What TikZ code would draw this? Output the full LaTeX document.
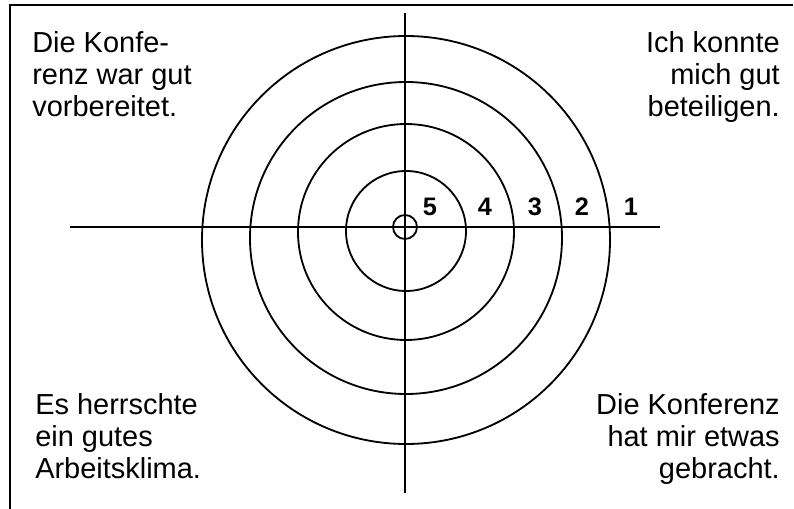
\documentclass[tikz,border=0pt]{standalone}
\usepackage{fontspec}
\setmainfont{Liberation Sans}
\usepackage{tikz}
\usetikzlibrary{positioning}

\begin{document}
\begin{tikzpicture}[
    x=0.25mm, y=-0.25mm,
    line/.style={line width=1.3pt, draw=black},
    ring/.style={line width=1.3pt, draw=black},
    statement/.style={font=\fontsize{20.6}{23}\selectfont, inner sep=0pt},
    score/.style={font=\fontsize{18}{20}\selectfont\bfseries, inner sep=0pt}
]
\useasboundingbox (0,0) rectangle (794,509);

% Frame
\coordinate (fbot) at (10,509);
\coordinate (fcorner) at (10,5);
\coordinate (fright) at (793,5);
\draw[line] (fbot) -- (fcorner) -- (fright);

% Axes
\coordinate (ctr) at (405,227);
\coordinate (north) at (405,13);
\coordinate (south) at (405,493);
\coordinate (west) at (70,227);
\coordinate (east) at (660,227);
\draw[line] (north) -- (south);
\draw[line] (west) -- (east);

% Rings
\foreach \cy/\r in {240/204, 238/156, 232/108, 231/60}
  \draw[ring] (406,\cy) circle[radius=\r];
\draw[ring] (ctr) circle[radius=12];

% Scores
\foreach \x/\n in {430/5, 485/4, 535/3, 582/2, 631/1}
  \node[score] (sc\n) at (\x,207) {\n};

% Statements
\node[statement, anchor=north west, align=left] (tl) at (32,31) {Die Konfe-\\renz war gut\\vorbereitet.};
\node[statement, anchor=north east, align=right] (tr) at (780,31) {Ich konnte\\mich gut\\beteiligen.};
\node[statement, anchor=north west, align=left] (bl) at (35,393) {Es herrschte\\ein gutes\\Arbeitsklima.};
\node[statement, anchor=north east, align=right] (br) at (780,393) {Die Konferenz\\hat mir etwas\\gebracht.};

\end{tikzpicture}
\end{document}
